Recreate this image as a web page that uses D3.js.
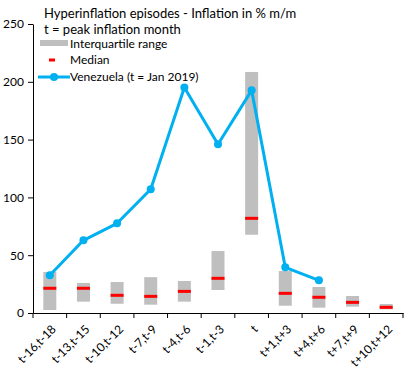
<!DOCTYPE html>
<html><head><meta charset="utf-8">
<script src="https://cdn.jsdelivr.net/npm/d3@7"></script>
<style>body{margin:0;background:#fff}svg{display:block}text{font-family:Lato,"Open Sans",sans-serif;fill:#000}</style>
</head><body><div id="chart"></div>
<script>
const categories = ["t-16,t-18","t-13,t-15","t-10,t-12","t-7,t-9","t-4,t-6","t-1,t-3","t","t+1,t+3","t+4,t+6","t+7,t+9","t+10,t+12"];
const q1 = [2.6, 9.8, 8, 7.2, 9.8, 19.9, 67.7, 6.3, 4.6, 5.5, 3.2];
const q3 = [35.5, 26, 26.8, 31, 27.7, 53.6, 208.5, 36.3, 22.5, 14.7, 7.8];
const median = [21.4, 21.4, 15.3, 14.4, 18.7, 30, 81.9, 17, 13.6, 9.2, 4.9];
const venezuela = [32.6, 62.9, 77.6, 107, 195, 146, 192.6, 39.5, 28.3, null, null];
const yTicks = [0, 50, 100, 150, 200, 250];
const titleLines = ["Hyperinflation episodes - Inflation in % m/m", "t = peak inflation month"];
const legendLabels = ["Interquartile range", "Median", "Venezuela (t = Jan 2019)"];

const W = 407, H = 378;
const svg = d3.select("#chart").append("svg").attr("width", W).attr("height", H);
const x = d3.scaleBand().domain(categories).range([33, 403]).padding(0);
const y = d3.scaleLinear().domain([0, 250]).range([313, 24]);
const grey = "#BFBFBF", red = "#FF0000", blue = "#00B0F0";
const bw = 13;

// bars
svg.append("g").selectAll("rect").data(categories).join("rect")
  .attr("x", d => x(d) + x.bandwidth()/2 - bw/2)
  .attr("width", bw)
  .attr("y", (d,i) => y(q3[i]))
  .attr("height", (d,i) => y(q1[i]) - y(q3[i]))
  .attr("fill", grey);
// medians
svg.append("g").selectAll("rect").data(categories).join("rect")
  .attr("x", d => x(d) + x.bandwidth()/2 - bw/2)
  .attr("width", bw)
  .attr("y", (d,i) => y(median[i]) - 1.5)
  .attr("height", 3)
  .attr("fill", red);

// venezuela line
const vData = categories.map((c,i) => ({c, v: venezuela[i]})).filter(d => d.v != null);
svg.append("path").datum(vData)
  .attr("d", d3.line().x(d => x(d.c) + x.bandwidth()/2).y(d => y(d.v)))
  .attr("fill", "none").attr("stroke", blue).attr("stroke-width", 3).attr("stroke-linejoin", "round");
svg.append("g").selectAll("circle").data(vData).join("circle")
  .attr("cx", d => x(d.c) + x.bandwidth()/2).attr("cy", d => y(d.v)).attr("r", 4).attr("fill", blue);

// axes
const yAxis = svg.append("g").attr("transform", "translate(33,0)")
  .call(d3.axisLeft(y).tickValues(yTicks).tickSize(5).tickSizeOuter(0));
yAxis.selectAll("text").style("font-size", "12px").attr("x", -9);
const xAxis = svg.append("g").attr("transform", "translate(0,313)")
  .call(d3.axisBottom(x).tickSize(0).tickSizeOuter(0));
xAxis.selectAll(".tick line").remove();
// ticks at band boundaries
const bounds = categories.map(c => x(c)).concat([x.range()[1]]);
xAxis.selectAll("line.bound").data(bounds).join("line").attr("class","bound")
  .attr("x1", d => d).attr("x2", d => d).attr("y1", 0).attr("y2", 5).attr("stroke", "#000");
xAxis.selectAll(".tick text").style("font-size", "12px")
  .attr("text-anchor", "end").attr("dy", "0.35em").attr("y", 0)
  .attr("transform", "translate(4,14) rotate(-45)");
svg.selectAll(".domain").attr("stroke", "#000");

// title
svg.append("text").attr("x", 44).attr("y", 18).style("font-size", "13px").text(titleLines[0]);
svg.append("text").attr("x", 44).attr("y", 34).style("font-size", "13px").text(titleLines[1]);

// legend
const lg = svg.append("g");
lg.append("rect").attr("x", 40).attr("y", 40).attr("width", 28).attr("height", 6).attr("fill", grey);
lg.append("rect").attr("x", 49).attr("y", 58.5).attr("width", 6).attr("height", 3).attr("fill", red);
lg.append("line").attr("x1", 38).attr("x2", 70).attr("y1", 77).attr("y2", 77).attr("stroke", blue).attr("stroke-width", 3);
lg.append("circle").attr("cx", 54).attr("cy", 77).attr("r", 4).attr("fill", blue);
[43.5, 60, 77].forEach((yy, i) => {
  lg.append("text").attr("x", 70).attr("y", yy).attr("dy", "0.35em").style("font-size", "12px").text(legendLabels[i]);
});
</script></body></html>
